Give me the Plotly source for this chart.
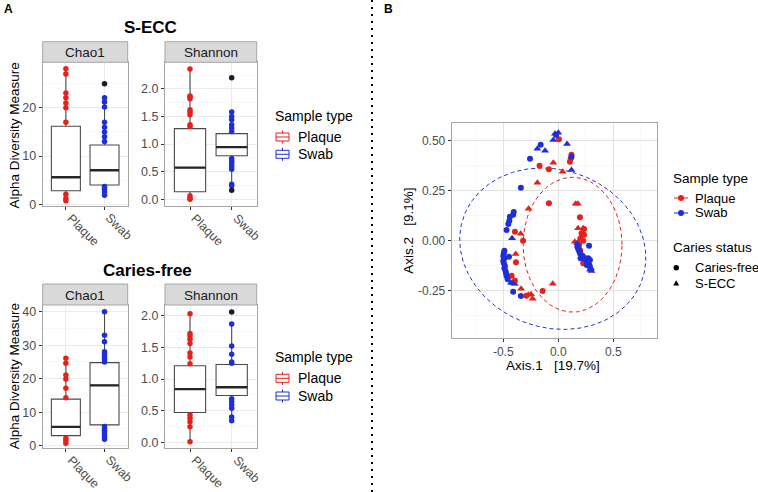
import numpy as np
import plotly.graph_objects as go

W, H = 758, 492
RED = "#E8201C"
BLUE = "#1F2FD8"
FONT = "Liberation Sans, Arial, sans-serif"

# ---------------- Panel A data ----------------
groups = ["Plaque", "Swab"]

# S-ECC / Chao1
secc_chao1_q1 = [2.8, 4.0]
secc_chao1_med = [5.6, 7.05]
secc_chao1_q3 = [16.2, 12.3]
secc_chao1_lo = [0.75, 1.9]
secc_chao1_hi = [28.1, 22.1]
secc_chao1_plaque = [28.1, 27.0, 23.1, 22.1, 21.0, 20.0, 17.0, 2.1, 1.2, 0.75]
secc_chao1_swab = [22.1, 21.2, 20.2, 17.0, 16.0, 15.0, 14.0, 13.0, 3.7, 3.15, 2.6, 1.9]
secc_chao1_out = [[], [25.0]]

# S-ECC / Shannon
secc_shan_q1 = [0.137, 0.79]
secc_shan_med = [0.575, 0.946]
secc_shan_q3 = [1.28, 1.19]
secc_shan_lo = [0.0, 0.245]
secc_shan_hi = [2.36, 1.58]
secc_shan_plaque = [2.36, 1.87, 1.85, 1.82, 1.62, 1.58, 1.53, 1.35, 1.32, 0.065, 0.018, 0.0]
secc_shan_swab = [1.58, 1.5, 1.44, 1.35, 1.29, 1.23, 0.74, 0.69, 0.65, 0.6, 0.545, 0.275, 0.245]
secc_shan_out = [[], [2.2, 0.167]]

# Caries-free / Chao1
cf_chao1_q1 = [3.0, 6.2]
cf_chao1_med = [5.6, 18.0]
cf_chao1_q3 = [13.9, 24.8]
cf_chao1_lo = [0.7, 1.9]
cf_chao1_hi = [26.1, 40.0]
cf_chao1_plaque = [26.1, 24.6, 21.1, 19.9, 17.1, 14.3, 2.2, 1.5, 0.7]
cf_chao1_swab = [40.0, 33.0, 31.0, 28.0, 27.4, 26.6, 25.8, 25.0, 5.7, 4.9, 4.2, 3.5, 2.7, 1.9]
cf_chao1_out = [[], []]

# Caries-free / Shannon
cf_shan_q1 = [0.47, 0.74]
cf_shan_med = [0.84, 0.87]
cf_shan_q3 = [1.21, 1.23]
cf_shan_lo = [0.0, 0.34]
cf_shan_hi = [2.03, 1.87]
cf_shan_plaque = [2.03, 1.72, 1.68, 1.63, 1.56, 1.41, 1.35, 1.24, 0.43, 0.38, 0.325, 0.246, 0.01]
cf_shan_swab = [1.87, 1.52, 1.39, 1.27, 1.25, 0.69, 0.64, 0.59, 0.54, 0.40, 0.34]
cf_shan_out = [[], [2.06]]

# ---------------- Panel B data (PCoA) ----------------
plaque_cf_x = [0.006, 0.12, 0.113, 0.106, -0.17, -0.085, -0.085, 0.197, 0.234, 0.212, 0.234, 0.227,
               0.2, 0.19, -0.394, -0.32, -0.385, -0.424, -0.394, -0.142, 0.227, 0.2, 0.24, -0.29]
plaque_cf_y = [0.507, 0.43, 0.41, 0.395, 0.375, 0.357, 0.187, 0.117, 0.058, 0.037, 0.03, 0.0,
               0.01, -0.02, 0.045, 0.0, -0.108, -0.175, -0.2, -0.252, -0.113, -0.05, -0.09, -0.275]
plaque_secc_x = [-0.045, 0.04, -0.19, -0.27, 0.158, 0.178, 0.18, 0.227, 0.15, 0.18, 0.212, 0.19,
                 -0.342, -0.387, -0.394, -0.338, -0.273, -0.248, -0.233, -0.05, 0.22]
plaque_secc_y = [0.39, 0.345, 0.29, 0.16, 0.185, 0.185, 0.062, 0.062, -0.005, -0.013, -0.08, -0.035,
                 0.035, -0.067, -0.217, -0.24, -0.27, -0.268, -0.29, -0.215, 0.03]
swab_cf_x = [-0.02, -0.16, -0.257, 0.12, -0.34, -0.405, -0.41, -0.44, -0.445, -0.454, -0.47,
             -0.49, -0.495, -0.5, -0.49, -0.5, -0.495, -0.485, -0.49, -0.48, -0.475, -0.47, -0.46,
             -0.448, -0.41, -0.34, 0.28, 0.173, 0.182, 0.19, 0.197, 0.22, 0.234, 0.252, 0.264,
             0.273, 0.282, 0.288, 0.273, 0.288, 0.258, 0.203]
swab_cf_y = [0.528, 0.48, 0.41, 0.42, 0.265, 0.143, 0.13, 0.12, 0.1, 0.083, 0.053,
             -0.05, -0.063, -0.077, -0.088, -0.1, -0.113, -0.127, -0.138, -0.152, -0.163, -0.177, -0.193,
             -0.08, -0.255, -0.277, -0.025, -0.03, -0.042, -0.052, -0.063, -0.075, -0.085, -0.097, -0.105,
             -0.113, -0.122, -0.13, -0.088, -0.097, -0.122, -0.088]
swab_secc_x = [0.0, -0.03, -0.045, 0.08, -0.19, -0.12, 0.12, -0.42, -0.43, -0.41, 0.173, 0.212,
               0.243, 0.297, 0.303, 0.29]
swab_secc_y = [0.54, 0.535, 0.503, 0.483, 0.46, 0.45, 0.353, 0.012, -0.21, -0.213, -0.013, -0.068,
               -0.088, -0.138, -0.152, -0.145]

# 95% ellipses (center, semi-axes, rotation): Plaque, Swab
ell_cx = [0.13, -0.05]
ell_cy = [-0.02, -0.04]
ell_a = [0.45, 0.848]
ell_b = [0.337, 0.40]
ell_rot = [0.0, -0.07]

# ---------------- helpers ----------------
def X(p):
    return p / W

def Y(p):
    return 1 - p / H

fig = go.Figure()
shapes = []
annotations = []

def ann(text, x, y, size=14, color="black", xanchor="center", bold=False, angle=0):
    annotations.append(dict(text=("<b>%s</b>" % text) if bold else text, x=X(x), y=Y(y),
                            xref="paper", yref="paper", showarrow=False, xanchor=xanchor,
                            yanchor="middle", textangle=angle, borderpad=0,
                            font=dict(size=size, color=color, family=FONT)))

GRID = "#EBEBEB"
MINOR = "#F4F4F4"
BORDER = "#A6A6A6"

def box_axes(n, xpx, ypx, yrange, ytickvals, yticktext, yminor):
    xa = dict(domain=[X(xpx[0]), X(xpx[1])], range=[0.4, 2.6], tickvals=[1, 2], ticktext=groups,
              showticklabels=False, showgrid=True, gridcolor=GRID, gridwidth=1, zeroline=False,
              showline=True, mirror=True, linecolor=BORDER, linewidth=1,
              ticks="outside", ticklen=3, tickcolor="#333333",
              anchor="y%s" % ("" if n == 1 else n), automargin=False, fixedrange=True)
    ya = dict(domain=[Y(ypx[1]), Y(ypx[0])], range=yrange, tickvals=ytickvals, ticktext=yticktext,
              showgrid=True, gridcolor=GRID, gridwidth=1, zeroline=False,
              showline=True, mirror=True, linecolor=BORDER, linewidth=1,
              ticks="outside", ticklen=3, tickcolor="#333333",
              tickfont=dict(size=12.5, color="#4D4D4D", family=FONT),
              minor=dict(tickvals=yminor, showgrid=True, gridcolor=MINOR, gridwidth=0.6, ticks=""),
              anchor="x%s" % ("" if n == 1 else n), automargin=False, fixedrange=True)
    # rotated category labels placed just below the panel at each tick
    for i, g in enumerate(groups):
        annotations.append(dict(text=g, x=i + 1, xref="x%s" % ("" if n == 1 else n),
                                y=Y(ypx[1] + 3.5), yref="paper", xanchor="left", yanchor="top",
                                xshift=-3, textangle=45, showarrow=False, borderpad=0,
                                font=dict(size=12.5, color="#4D4D4D", family=FONT)))
    return xa, ya

def box_panel(n, q1, med, q3, lo, hi, pts, outs):
    xr = "x" if n == 1 else "x%d" % n
    yr = "y" if n == 1 else "y%d" % n
    cols = [RED, BLUE]
    for i, g in enumerate(groups):
        pos = i + 1
        fig.add_trace(go.Box(x=[pos], q1=[q1[i]], median=[med[i]], q3=[q3[i]],
                             lowerfence=[lo[i]], upperfence=[hi[i]], width=0.75, whiskerwidth=0,
                             fillcolor="white", line=dict(color="#4A4A4A", width=1.1),
                             boxpoints=False, showlegend=False, hoverinfo="skip",
                             xaxis=xr, yaxis=yr))
        fig.add_trace(go.Scatter(x=[pos] * len(pts[i]), y=pts[i], mode="markers",
                                 marker=dict(color=cols[i], size=5.5), showlegend=False,
                                 xaxis=xr, yaxis=yr, hoverinfo="skip"))
        fig.add_trace(go.Scatter(x=[pos - 0.375, pos + 0.375], y=[med[i], med[i]], mode="lines",
                                 line=dict(color="#262626", width=2.4), showlegend=False,
                                 xaxis=xr, yaxis=yr, hoverinfo="skip"))
        if outs[i]:
            fig.add_trace(go.Scatter(x=[pos] * len(outs[i]), y=outs[i], mode="markers",
                                     marker=dict(color="#1A1A2E", size=5.5), showlegend=False,
                                     xaxis=xr, yaxis=yr, hoverinfo="skip"))

layout_axes = {}
chao_top_x = (42.7, 127.7)
shan_x = (165.0, 256.7)
top_y = (62.3, 206.0)
bot_y = (305.0, 448.3)

xa, ya = box_axes(1, chao_top_x, top_y, [-0.35, 29.45], [0, 10, 20], ["0", "10", "20"], [5, 15, 25])
layout_axes["xaxis"], layout_axes["yaxis"] = xa, ya
xa, ya = box_axes(2, shan_x, top_y, [-0.12, 2.48], [0, 0.5, 1, 1.5, 2],
                  ["0.0", "0.5", "1.0", "1.5", "2.0"], [0.25, 0.75, 1.25, 1.75, 2.25])
layout_axes["xaxis2"], layout_axes["yaxis2"] = xa, ya
xa, ya = box_axes(3, chao_top_x, bot_y, [-0.8, 42.0], [0, 10, 20, 30, 40],
                  ["0", "10", "20", "30", "40"], [5, 15, 25, 35])
layout_axes["xaxis3"], layout_axes["yaxis3"] = xa, ya
xa, ya = box_axes(4, shan_x, bot_y, [-0.095, 2.17], [0, 0.5, 1, 1.5, 2],
                  ["0.0", "0.5", "1.0", "1.5", "2.0"], [0.25, 0.75, 1.25, 1.75])
layout_axes["xaxis4"], layout_axes["yaxis4"] = xa, ya

box_panel(1, secc_chao1_q1, secc_chao1_med, secc_chao1_q3, secc_chao1_lo, secc_chao1_hi,
          [secc_chao1_plaque, secc_chao1_swab], secc_chao1_out)
box_panel(2, secc_shan_q1, secc_shan_med, secc_shan_q3, secc_shan_lo, secc_shan_hi,
          [secc_shan_plaque, secc_shan_swab], secc_shan_out)
box_panel(3, cf_chao1_q1, cf_chao1_med, cf_chao1_q3, cf_chao1_lo, cf_chao1_hi,
          [cf_chao1_plaque, cf_chao1_swab], cf_chao1_out)
box_panel(4, cf_shan_q1, cf_shan_med, cf_shan_q3, cf_shan_lo, cf_shan_hi,
          [cf_shan_plaque, cf_shan_swab], cf_shan_out)

# strips
for (x0, x1), label in [(chao_top_x, "Chao1"), (shan_x, "Shannon")]:
    for (sy0, sy1) in [(41.7, 62.3), (284.0, 305.0)]:
        shapes.append(dict(type="rect", xref="paper", yref="paper", x0=X(x0), x1=X(x1),
                           y0=Y(sy1), y1=Y(sy0), fillcolor="#D9D9D9",
                           line=dict(color=BORDER, width=1)))
        ann(label, (x0 + x1) / 2, (sy0 + sy1) / 2 + 0.5, size=13.5, color="#1A1A1A")

# titles & axis titles
ann("A", 8, 9, size=12, bold=True)
ann("B", 388, 9, size=12, bold=True)
ann("S-ECC", 150.7, 28, size=17, bold=True)
ann("Caries-free", 147.3, 270, size=17, bold=True)
ann("Alpha Diversity Measure", 14.5, 136, size=13.5, angle=-90)
ann("Alpha Diversity Measure", 14.5, 376.7, size=13.5, angle=-90)

# Panel A legends (box glyphs)
for ty, ys in [(115.7, (137.0, 154.3)), (357.3, (378.3, 396.0))]:
    ann("Sample type", 274, ty, size=14, xanchor="left")
    for yy, col, lab in zip(ys, [RED, BLUE], groups):
        shapes.append(dict(type="rect", xref="paper", yref="paper", x0=X(276), x1=X(289),
                           y0=Y(yy + 4), y1=Y(yy - 4), line=dict(color=col, width=1),
                           fillcolor="white"))
        shapes.append(dict(type="line", xref="paper", yref="paper", x0=X(276), x1=X(289),
                           y0=Y(yy), y1=Y(yy), line=dict(color=col, width=1)))
        shapes.append(dict(type="line", xref="paper", yref="paper", x0=X(282.5), x1=X(282.5),
                           y0=Y(yy - 4), y1=Y(yy - 6.5), line=dict(color=col, width=1)))
        shapes.append(dict(type="line", xref="paper", yref="paper", x0=X(282.5), x1=X(282.5),
                           y0=Y(yy + 4), y1=Y(yy + 6.5), line=dict(color=col, width=1)))
        ann(lab, 297, yy, size=14, xanchor="left")

# separator
shapes.append(dict(type="line", xref="paper", yref="paper", x0=X(372), x1=X(372), y0=0, y1=1,
                   line=dict(color="black", width=2, dash="2px,5px")))

# ---------------- Panel B ----------------
pc_x = (451.7, 656.7)
pc_y = (123.3, 337.7)
layout_axes["xaxis5"] = dict(domain=[X(pc_x[0]), X(pc_x[1])], range=[-0.969, 0.895],
                             tickvals=[-0.5, 0, 0.5], ticktext=["-0.5", "0.0", "0.5"],
                             showgrid=True, gridcolor="#E3E3E3", gridwidth=1.3, zeroline=False,
                             minor=dict(tickvals=[-0.75, -0.25, 0.25, 0.75], showgrid=True,
                                        gridcolor=MINOR, gridwidth=0.6, ticks=""),
                             showline=True, mirror=True, linecolor=BORDER, linewidth=1,
                             ticks="outside", ticklen=3, tickcolor="#333333",
                             tickfont=dict(size=12, color="#4D4D4D", family=FONT),
                             anchor="y5", automargin=False, fixedrange=True)
layout_axes["yaxis5"] = dict(domain=[Y(pc_y[1]), Y(pc_y[0])], range=[-0.485, 0.587],
                             tickvals=[-0.25, 0, 0.25, 0.5], ticktext=["-0.25", "0.00", "0.25", "0.50"],
                             showgrid=True, gridcolor="#E3E3E3", gridwidth=1.3, zeroline=False,
                             minor=dict(tickvals=[-0.375, -0.125, 0.125, 0.375], showgrid=True,
                                        gridcolor=MINOR, gridwidth=0.6, ticks=""),
                             showline=True, mirror=True, linecolor=BORDER, linewidth=1,
                             ticks="outside", ticklen=3, tickcolor="#333333",
                             tickfont=dict(size=12, color="#4D4D4D", family=FONT),
                             anchor="x5", automargin=False, fixedrange=True)

t = np.linspace(0, 2 * np.pi, 200)
for i, col in enumerate([RED, BLUE]):
    ex = ell_a[i] * np.cos(t)
    ey = ell_b[i] * np.sin(t)
    rx = ell_cx[i] + ex * np.cos(ell_rot[i]) - ey * np.sin(ell_rot[i])
    ry = ell_cy[i] + ex * np.sin(ell_rot[i]) + ey * np.cos(ell_rot[i])
    fig.add_trace(go.Scatter(x=rx, y=ry, mode="lines", line=dict(color=col, width=1, dash="4px,3px"),
                             showlegend=False, xaxis="x5", yaxis="y5", hoverinfo="skip"))

for xs, ys, col, sym, sz in [(plaque_cf_x, plaque_cf_y, RED, "circle", 6),
                             (plaque_secc_x, plaque_secc_y, RED, "triangle-up", 7),
                             (swab_cf_x, swab_cf_y, BLUE, "circle", 6),
                             (swab_secc_x, swab_secc_y, BLUE, "triangle-up", 7)]:
    fig.add_trace(go.Scatter(x=xs, y=ys, mode="markers",
                             marker=dict(color=col, symbol=sym, size=sz, line=dict(width=0)),
                             showlegend=False, xaxis="x5", yaxis="y5", hoverinfo="skip"))

ann("Axis.1\u00a0\u00a0\u00a0[19.7%]", 553, 365, size=13.5)
ann("Axis.2\u00a0\u00a0\u00a0[9.1%]", 407.7, 231, size=13.5, angle=-90)

# Panel B legends
ann("Sample type", 672, 178.3, size=13.5, xanchor="left")
for yy, col, lab in [(198.0, RED, "Plaque"), (213.0, BLUE, "Swab")]:
    shapes.append(dict(type="line", xref="paper", yref="paper", x0=X(674), x1=X(688),
                       y0=Y(yy), y1=Y(yy), line=dict(color=col, width=1)))
    shapes.append(dict(type="circle", xref="paper", yref="paper", x0=X(678), x1=X(684),
                       y0=Y(yy + 3), y1=Y(yy - 3), fillcolor=col, line=dict(color=col, width=0)))
    ann(lab, 694, yy, size=13, xanchor="left")
ann("Caries status", 672, 247.3, size=13.5, xanchor="left")
shapes.append(dict(type="circle", xref="paper", yref="paper", x0=X(673.5), x1=X(679),
                   y0=Y(270.4), y1=Y(264.9), fillcolor="black", line=dict(width=0)))
ann("Caries-free", 694, 267.7, size=13, xanchor="left")
shapes.append(dict(type="path", xref="paper", yref="paper",
                   path="M %f,%f L %f,%f L %f,%f Z" % (X(676.2), Y(280.3), X(673.2), Y(285.6),
                                                     X(679.2), Y(285.6)),
                   fillcolor="black", line=dict(width=0)))
ann("S-ECC", 694, 283.3, size=13, xanchor="left")

fig.update_layout(width=W, height=H, margin=dict(l=0, r=0, t=0, b=0),
                  paper_bgcolor="white", plot_bgcolor="white", showlegend=False,
                  font=dict(family=FONT, color="black"),
                  shapes=shapes, annotations=annotations, **layout_axes)

fig.write_html("out.html", config={"displayModeBar": False, "staticPlot": True},
               post_script="document.body.style.margin='0px';document.body.style.padding='0px';")
